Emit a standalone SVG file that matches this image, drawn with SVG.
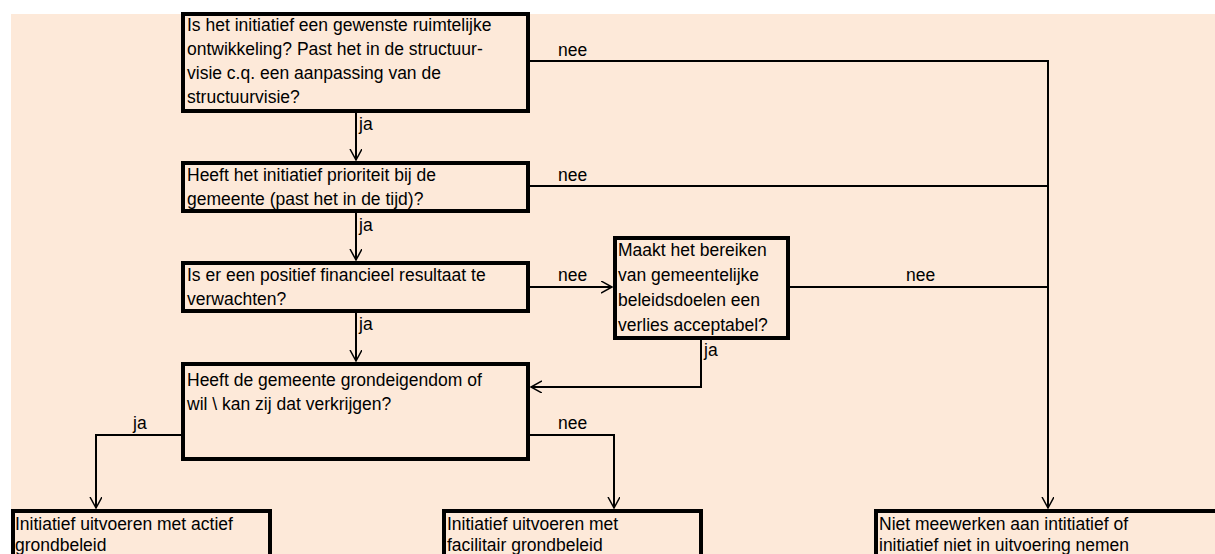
<svg xmlns="http://www.w3.org/2000/svg" width="1215" height="554" viewBox="0 0 1215 554">
<style>
.box{fill:#FDE9D9;stroke:#000;stroke-width:4}
.t{font-family:"Liberation Sans",Arial,sans-serif;font-size:17.5px;fill:#000}
.c{fill:none;stroke:#000;stroke-width:2}
</style>
<defs>
<marker id="ah" markerUnits="userSpaceOnUse" markerWidth="14" markerHeight="14" refX="11" refY="6" orient="auto">
<path d="M0,0 L11,6 L0,12" fill="none" stroke="#000" stroke-width="1.5"/>
</marker>
</defs>
<rect x="11" y="14" width="1204" height="540" fill="#FDE9D9"/>
<g id="connectors">
<path class="c" d="M356,113 V160" marker-end="url(#ah)"/>
<path class="c" d="M356,213 V260" marker-end="url(#ah)"/>
<path class="c" d="M356,313 V361" marker-end="url(#ah)"/>
<path class="c" d="M530,287 H612" marker-end="url(#ah)"/>
<path class="c" d="M701,340 V387 H531" marker-end="url(#ah)"/>
<path class="c" d="M181,435 H96 V508" marker-end="url(#ah)"/>
<path class="c" d="M530,435 H614 V508" marker-end="url(#ah)"/>
<path class="c" d="M530,61 H1048"/>
<path class="c" d="M530,186 H1048"/>
<path class="c" d="M790,287 H1048"/>
<path class="c" d="M1048,60 V508" marker-end="url(#ah)"/>
<text class="t" x="359" y="130">ja</text>
<text class="t" x="359" y="231">ja</text>
<text class="t" x="359" y="330">ja</text>
<text class="t" x="704" y="356">ja</text>
<text class="t" x="133" y="429">ja</text>
<text class="t" x="558" y="56">nee</text>
<text class="t" x="558" y="181">nee</text>
<text class="t" x="558" y="281">nee</text>
<text class="t" x="906" y="281">nee</text>
<text class="t" x="558" y="429">nee</text>
</g>
<g id="n1">
<rect class="box" x="183" y="14" width="345" height="97"/>
<text class="t" x="187" y="31">Is het initiatief een gewenste ruimtelijke</text>
<text class="t" x="187" y="55">ontwikkeling? Past het in de structuur-</text>
<text class="t" x="187" y="79">visie c.q. een aanpassing van de</text>
<text class="t" x="187" y="103">structuurvisie?</text>
</g>
<g id="n2">
<rect class="box" x="183" y="163" width="345" height="48"/>
<text class="t" x="187" y="181">Heeft het initiatief prioriteit bij de</text>
<text class="t" x="187" y="205">gemeente (past het in de tijd)?</text>
</g>
<g id="n3">
<rect class="box" x="183" y="263" width="345" height="48"/>
<text class="t" x="187" y="281">Is er een positief financieel resultaat te</text>
<text class="t" x="187" y="305">verwachten?</text>
</g>
<g id="n4">
<rect class="box" x="615" y="238" width="173" height="100"/>
<text class="t" x="618" y="256">Maakt het bereiken</text>
<text class="t" x="618" y="281">van gemeentelijke</text>
<text class="t" x="618" y="306">beleidsdoelen een</text>
<text class="t" x="618" y="331">verlies acceptabel?</text>
</g>
<g id="n5">
<rect class="box" x="183" y="364" width="345" height="95"/>
<text class="t" x="187" y="386">Heeft de gemeente grondeigendom of</text>
<text class="t" x="187" y="410">wil \ kan zij dat verkrijgen?</text>
</g>
<g id="n6">
<rect class="box" x="13" y="511" width="257" height="60"/>
<text class="t" x="15" y="530">Initiatief uitvoeren met actief</text>
<text class="t" x="15" y="551">grondbeleid</text>
</g>
<g id="n7">
<rect class="box" x="444" y="511" width="257" height="60"/>
<text class="t" x="447" y="530">Initiatief uitvoeren met</text>
<text class="t" x="447" y="551">facilitair grondbeleid</text>
</g>
<g id="n8">
<rect class="box" x="876" y="511" width="360" height="60"/>
<text class="t" x="879" y="530">Niet meewerken aan intitiatief of</text>
<text class="t" x="879" y="551">initiatief niet in uitvoering nemen</text>
</g>
</svg>
